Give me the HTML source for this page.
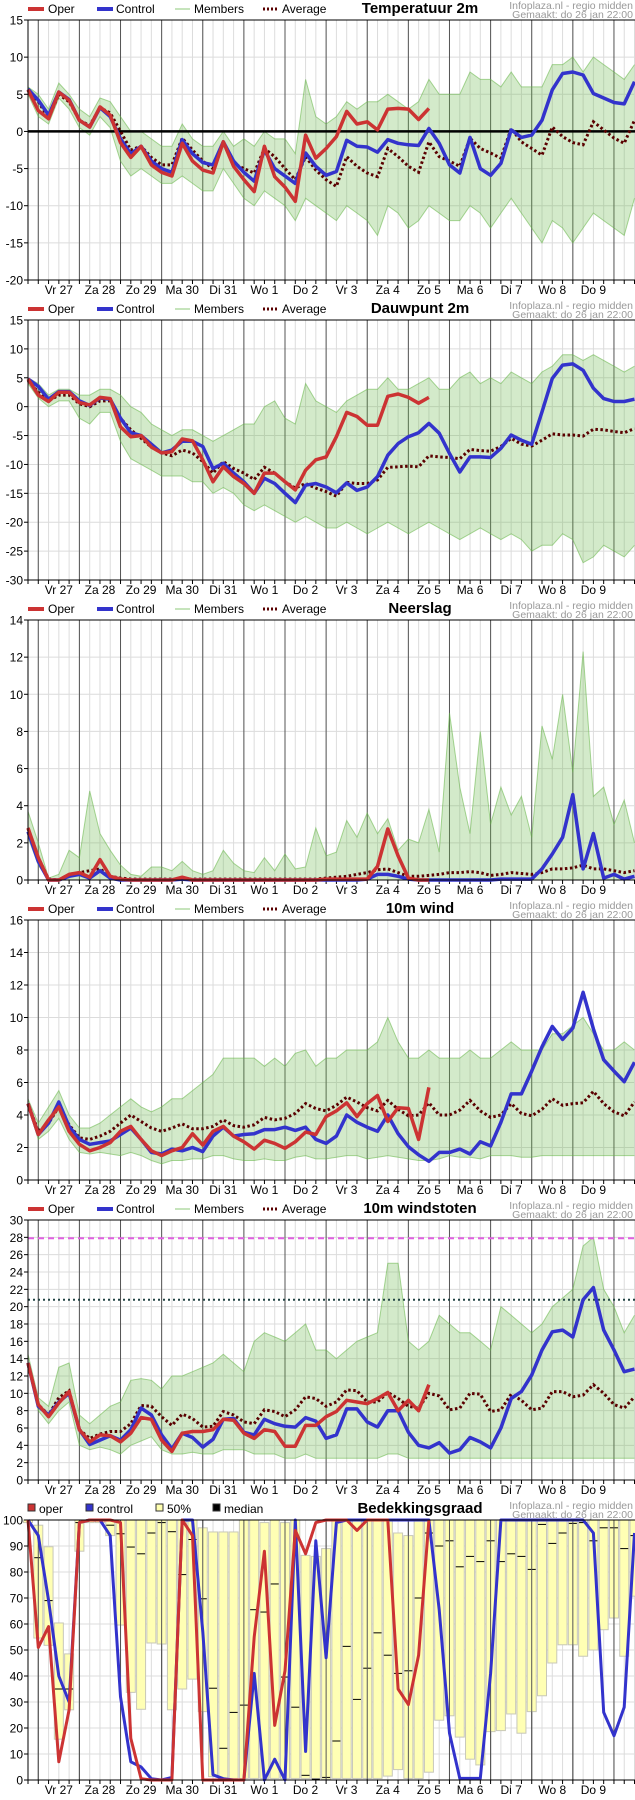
<!DOCTYPE html>
<html><head><meta charset="utf-8">
<style>
html,body{margin:0;padding:0;background:#fff;}
svg{display:block;font-family:"Liberation Sans",Arial,sans-serif;}
</style></head>
<body>
<svg id="chart" width="635" height="1800" viewBox="0 0 635 1800" xmlns="http://www.w3.org/2000/svg"></svg>
<script>
// ---------- shared axis data ----------
const dayLabels = ["Vr 27","Za 28","Zo 29","Ma 30","Di 31","Wo 1","Do 2","Vr 3","Za 4","Zo 5","Ma 6","Di 7","Wo 8","Do 9"];

// ---------- Temperatuur 2m ----------
const tempOper = [5.6,2.8,1.7,5.3,4.2,1.5,0.6,3.3,2.2,-1.5,-3.5,-2,-4.5,-5.5,-6,-1.6,-4,-5.2,-5.6,-1.4,-4.7,-6.5,-8.1,-2,-6.1,-7.5,-9.4,-0.5,-3.6,-2.3,-0.7,2.7,1,1.3,0.2,3,3.1,3,1.6,3.1];
const tempControl = [5.7,4.2,2.2,5.3,4.3,1.5,0.6,3.2,2,-1,-3,-2,-4,-5,-5.5,-1.1,-3,-4.2,-4.5,-1.4,-4,-5.5,-6.7,-2.5,-5,-6,-7,-2.9,-4.7,-5.9,-5.4,-1.2,-2,-2.1,-2.8,-1.1,-1.6,-1.8,-1.9,0.4,-1.6,-4.5,-5.6,-0.8,-5,-5.9,-4.3,0.2,-0.8,-0.5,1.5,5.6,7.8,8,7.6,5.1,4.5,3.9,3.7,6.7];
const tempAverage = [5.5,4,1.8,5,4,1.5,0.8,3.2,2.5,0,-2.5,-2,-3.5,-4.5,-4.5,-0.9,-2.5,-4,-5,-1.6,-4.3,-5,-5.6,-2.3,-3.4,-5,-6.5,-3.4,-5.2,-6.5,-7.4,-3.4,-4.7,-5.6,-6.1,-2.3,-3.4,-4.7,-5.5,-1.4,-3.4,-4,-4.7,-0.9,-2.3,-2.9,-3.6,0.4,-1.4,-2.3,-3.2,0.6,-0.7,-1.5,-1.8,1.3,0.2,-0.9,-1.6,1.5];
const tempHi = [6,5,3,6.5,5,3,2,4.5,4,2,0,0,-1,-2,-2,1,-1,-2,-2,0,-2,-1,-2,0,-1,-1,-3,7,2,1,2,4,3,4,4,5,4,3,4,7,5,5,5,8,7,7,6,8,6,6,6,9,9,10,8,10,9,8,7,9];
const tempLo = [5,2,1,4.5,3,0.5,-0.5,2,0.5,-4,-6,-5,-6,-7,-7,-6,-7,-8,-8,-5,-7,-9,-10,-8,-9,-10,-12,-9,-10,-11,-12,-10,-11,-12,-14,-10,-11,-13,-12,-10,-11,-12,-12,-10,-11,-13,-11,-9,-11,-13,-15,-12,-13,-15,-13,-11,-12,-13,-14,-9];

// ---------- Dauwpunt 2m ----------
const dewOper = [4.8,2,0.9,2.5,2.5,0.7,0.3,1.6,1.4,-3.5,-5.2,-5,-7,-8,-7.8,-5.6,-5.9,-9.2,-13,-10.4,-12.1,-13.3,-15,-11.5,-11.5,-13,-14.4,-11,-9.2,-8.7,-5.2,-1,-1.7,-3.2,-3.2,1.8,2.2,1.6,0.6,1.6];
const dewControl = [4.8,3.5,1.3,2.6,2.6,1,0.2,1.5,1.3,-2,-4.5,-5,-6.5,-8,-7.5,-6,-6,-6.9,-10.7,-9.8,-11.5,-13,-15,-12.4,-13.3,-15,-16.6,-13.6,-13.3,-13.9,-14.9,-13.2,-14.5,-13.9,-12.1,-8.4,-6.4,-5.2,-4.5,-2.9,-4.6,-8.1,-11.3,-8.7,-8.7,-8.8,-7.2,-4.9,-5.8,-6.5,-0.9,4.9,7.2,7.4,6.3,3.2,1.4,0.9,0.9,1.3];
const dewAverage = [4.5,2.5,1,2,2,0.5,0,1,1,-2,-4,-5.5,-7,-8,-8.5,-7.5,-8,-9.5,-11.5,-9.5,-10.7,-11.5,-12.6,-10.5,-11.5,-13,-14.1,-13.3,-14.1,-14.7,-15.5,-13.1,-13.3,-13.3,-12.7,-10.5,-10.4,-10.3,-10.4,-8.5,-8.7,-8.8,-9,-7.4,-7.6,-7.7,-6.9,-5.5,-6.5,-6.8,-5.8,-4.7,-4.9,-4.9,-5.1,-3.9,-4,-4.3,-4.5,-3.8];
const dewHi = [5,4,2,3,3,2,2,3,3,2,0,-1,-3,-4,-5,-4,-4,-5,-6,-5,-4,-3,-3,0,1,-2,-3,4,1,0,-1,1,2,3,3,5,3,3,4,5,3,3,5,6,4,5,4,6,5,4,6,7,9,9,8,9,8,7,6,7];
const dewLo = [4,1.5,0,1,1,-2,-3,-1,-1,-6,-9,-10,-11,-12,-12,-12,-13,-13,-15,-14,-15,-17,-18,-17,-18,-19,-20,-19,-20,-21,-21,-20,-21,-22,-21,-20,-21,-22,-21,-20,-21,-22,-23,-22,-21,-22,-23,-22,-23,-25,-24,-24,-22,-23,-27,-26,-24,-25,-26,-24];

// ---------- Neerslag ----------
const rainOper = [2.8,1.2,0,0,0.3,0.4,0.15,1.1,0.2,0.05,0,0,0,0,0,0.15,0,0,0,0,0,0,0,0,0,0,0,0,0,0.05,0.05,0.05,0.05,0.05,0.73,2.75,1.3,0.1,0,0];
const rainControl = [2.6,1,0,0,0.2,0.3,0.1,0.5,0.1,0,0,0,0,0,0,0.05,0,0,0,0,0,0,0,0,0,0,0,0,0,0,0,0,0,0.05,0.3,0.3,0.2,0.05,0,0,0,0,0,0,0,0,0.05,0.05,0.05,0.05,0.6,1.4,2.3,4.6,0.6,2.5,0.1,0.3,0.05,0.2];
const rainAverage = [2.8,1.2,0.05,0,0.3,0.4,0.5,0.6,0.2,0.1,0.05,0.05,0.05,0.05,0.05,0.05,0.05,0.05,0.05,0.05,0.05,0.05,0.05,0.05,0.05,0.05,0.05,0.05,0.05,0.1,0.15,0.2,0.3,0.4,0.55,0.6,0.4,0.2,0.2,0.25,0.3,0.4,0.4,0.45,0.4,0.25,0.3,0.4,0.35,0.3,0.4,0.6,0.6,0.65,0.8,0.6,0.6,0.5,0.4,0.5];
const rainHi = [3.7,2,0.1,0.3,1.6,1.2,4.8,2.5,1.6,0.8,0.3,0.2,0.7,0.7,0.5,1,0.5,0.3,0.5,1.6,0.9,0.5,0.4,1.2,0.5,1.4,0.6,0.7,2.8,1.3,1.5,3.2,2.3,3.6,2.5,3.3,1.6,2.2,2,3.8,1.5,9,5,2.5,8,3,5,3.5,4.5,2.3,8.3,6.5,10,5.8,12.3,4.5,5,3,4.3,2];
const rainLo = [2.3,0.8,0,0,0,0,0,0,0,0,0,0,0,0,0,0,0,0,0,0,0,0,0,0,0,0,0,0,0,0,0,0,0,0,0,0,0,0,0,0,0,0,0,0,0,0,0,0,0,0,0,0,0,0,0,0,0,0,0,0];

// ---------- 10m wind ----------
const windOper = [4.7,2.8,3.7,4.5,3,2.2,1.8,2,2.3,3,3.3,2.5,1.8,1.5,1.8,2,2.85,2.15,3,3.3,2.7,2.35,1.9,2.45,2.25,1.95,2.35,2.95,2.8,3.9,4.25,4.75,3.9,4.7,5.2,3.6,4.45,4.4,2.5,5.7];
const windControl = [4.7,2.8,3.5,4.8,3.3,2.5,2.2,2.3,2.4,2.8,3.2,2.5,1.7,1.6,1.9,1.8,2,1.75,2.7,3.25,2.7,2.8,2.85,3.1,3.1,3.25,3.05,3.25,2.5,2.25,2.7,4,3.55,3.25,3,4,2.85,2.05,1.55,1.15,1.7,1.7,1.9,1.6,2.35,2.1,3.55,5.3,5.3,6.7,8.2,9.45,8.65,9.35,11.55,9.3,7.4,6.7,6.05,7.25];
const windAverage = [4.7,3,3.5,4.5,3.4,2.6,2.5,2.7,3,3.5,4,3.6,3.2,3,3.2,3.45,3.15,3.15,3.3,3.7,3.35,3.25,3.4,3.85,3.7,3.8,4.1,4.7,4.4,4.25,4.6,5.1,4.8,4.45,4.25,4.9,4.35,3.95,4,4.75,4,4,4.3,4.9,4.25,3.85,4,4.7,4.1,3.95,4.35,5,4.6,4.7,4.75,5.45,4.7,4.2,3.95,4.8];
const windHi = [5,3.5,4.5,5.5,4,3.2,3.2,3.5,4,4.5,5,4.5,4.2,4.5,5,5,5.5,6,6.5,7.5,7.5,7.5,7.5,7,7.5,7,7.8,8,7,7.5,7.5,8,8,8,8.5,10,8.5,7.5,7.5,8,7.5,7.5,7.5,8,7.5,7.5,8,8.5,8,8,8,9,9,9.5,10,9,8,8,8.5,8];
const windLo = [4.5,2.5,3,3.8,2.5,1.7,1.6,1.7,1.6,1.5,1.7,1.5,1.2,1,1.2,1.2,1.3,1.3,1.5,1.5,1.3,1.2,1.2,1.3,1.2,1.2,1.4,1.5,1.3,1.3,1.4,1.5,1.5,1.3,1.4,1.5,1.4,1.3,1.2,1.2,1.3,1.5,1.4,1.4,1.3,1.5,1.5,1.5,1.4,1.4,1.5,1.5,1.5,1.5,1.5,1.5,1.5,1.5,1.5,1.5];

// ---------- 10m windstoten ----------
const gustOper = [13.5,8.7,7.3,8.9,10.2,5.8,4.4,5.2,5.1,4.4,5.4,7.2,7,4.6,3.3,5.4,5.6,5.6,5.8,7,6.9,5.4,4.8,5.8,5.6,3.9,3.9,6.3,6.3,7.3,7.9,9.2,9,8.8,9.4,10.1,8,9.2,8,11];
const gustControl = [13.5,8.5,7.5,9,10,5.8,4.1,4.6,5.1,4.6,5.8,8.3,7.5,5.2,3.6,5.4,4.9,3.8,4.7,7,7.1,5.5,5.2,7,6.5,6.2,6.1,7.2,6.8,4.8,5.2,8.2,8.2,6.7,6.1,8,8,5.5,4,3.7,4.3,3.1,3.5,4.9,4.4,3.7,6,9.4,10.2,12.1,15,17.1,17.3,16.5,20.8,22.2,17.3,15,12.5,12.8];
const gustAverage = [13.5,8.7,7.5,9.5,10.3,5.8,4.8,5.3,5.6,5.6,6.5,8.6,8.5,7.3,6.3,7.6,7.1,6.1,6.2,7.9,7.5,6.7,6.5,8.1,7.9,7.3,8.1,9.6,9.4,8.5,9,10.4,10.3,9,9,10.1,9.4,8.5,8.3,10,9.7,8.1,8.3,10,9.9,7.9,8.1,9.9,9.2,8.1,8.3,10.2,10.2,9.6,9.8,11,10,8.7,8.3,9.6];
const gustHi = [14.5,9.5,8.5,13,13.5,7.5,6.5,7.5,8.5,9,11.5,11.7,11.5,10.5,12,12,12.5,13,13.5,14.5,13.5,12.5,16,17,16.5,16,17,18,15,15,14,15,16,16.5,17,25,25,16,15,16,19,18,17,17,16,15,20,19,18,17,18,20,21,22,27,28,22,20,17,19];
const gustLo = [13,8,6.5,8,9,4,3.5,3.8,3.5,3,4,4.5,5,3.5,3,3,3.2,3,3,3.5,3.5,3.5,3,3,3,2.5,2.5,3,2.5,2.5,2.5,2.5,2.5,2.5,2.5,3,3,2.5,2.5,2.5,2.5,2.5,2.5,2.5,2.5,2.5,2.5,2.5,2.5,2.5,2.5,2.5,2.5,2.5,2.5,2.5,2.5,2.5,2.5,2.5];
const gustThresholds = [27.9, 20.8];

// ---------- Bedekkingsgraad ----------
const cloudOper = [100,51,59,7,27,99,100,100,100,99,16,0.5,0,0,0,100,94,0,0,0,0,0,55,88,21,42,96,87,99,100,100,100,96,100,100,100,35,29,48,100];
const cloudControl = [100,94,69,40,30,99,100,100,94,32,7,5,0.5,0,1,100,100,57,2,0.5,0,0,41,0,8,0,100,11,92,47,99,100,100,100,100,100,100,100,100,100,65.5,18,0.6,0.6,0.6,41,100,100,100,100,100,100,100,100,100,95,26,17,28,95];
const cloudP75 = [100,98,89.7,60.4,48.5,100,100,100,100,100,100,100,100,100,100,100,100,97,95.4,95.4,95.4,100,100,99,100,99,100,86.4,86,89,100,100,100,100,100,100,95,94,100,100,100,100,100,100,100,100,100,100,100,100,100,100,100,100,100,100,100,100,100,100];
const cloudP25 = [99,54.6,51.8,15.7,27,88,99,99,94,59.6,33.7,27.2,52.7,52.3,27,35,38.8,26.3,1.3,0.6,0.6,0.6,0.6,0.6,0.6,0.6,0.6,0.6,0.6,0.3,0.6,0.6,0.6,0.6,0.6,1.5,4,0.6,0.6,3,23,24.7,16.5,8,5.8,18.6,19,25.4,18,26.3,32.4,45,52,52,47.6,50,57.8,62.3,47.6,70.7];
const cloudMedian = [100,85.5,69,35,35,99,100,100,98,94.7,89.6,87,95,99,95.5,79,92.5,69.7,35.3,12.2,26,28.8,65.5,64.6,75.4,39.6,28,1.8,0.3,1,15,51.4,31,43,56.6,48,41,42,70,95,90,92,82,86,84,92,84,87,86,81,98.3,91,95,98.7,99,92,97,97,89,94];

// ---------- drawing ----------
const svg = document.getElementById('chart');
const NS = 'http://www.w3.org/2000/svg';
const X0 = 28, DX = 10.28, NSTEP = 60, PH = 260;
function xAt(i){ return X0 + i*DX; }
function mk(tag, attrs, parent){
  const e = document.createElementNS(NS, tag);
  for (const k in attrs) e.setAttribute(k, attrs[k]);
  (parent||svg).appendChild(e);
  return e;
}
function txt(s, x, y, attrs, parent){
  const t = mk('text', Object.assign({x:x, y:y}, attrs), parent);
  t.textContent = s;
  return t;
}
function pathFrom(arr, yf){
  let d = '';
  arr.forEach((v,i)=>{ d += (i?'L':'M') + xAt(i).toFixed(1) + ',' + yf(v).toFixed(1); });
  return d;
}

function header(g, top, title, cloud){
  const ly = top - 7;
  const leg = mk('g', {}, g);
  
  
  if (!cloud){
    const e1 = mk('line', {x1:28,y1:ly-4,x2:44,y2:ly-4,stroke:'#cc3333','stroke-width':4}, leg);
    
    
    txt('Oper', 48, ly, {'font-size':12, fill:'#000'}, leg);
    const e2 = mk('line', {x1:97,y1:ly-4,x2:113,y2:ly-4,stroke:'#3333cc','stroke-width':4}, leg);
    
    
    txt('Control', 116, ly, {'font-size':12, fill:'#000'}, leg);
    const e3 = mk('line', {x1:175,y1:ly-4,x2:190,y2:ly-4,stroke:'#8cc97a','stroke-width':1}, leg);
    
    
    txt('Members', 194, ly, {'font-size':12, fill:'#000'}, leg);
    const e4 = mk('line', {x1:263,y1:ly-4,x2:277,y2:ly-4,stroke:'#5a0000','stroke-width':3,'stroke-dasharray':'2,2'}, leg);
    
    
    txt('Average', 282, ly, {'font-size':12, fill:'#000'}, leg);
  } else {
    const items = [['#cc3333','oper',28],['#3333cc','control',86],['#ffffb0','50%',156],['#000','median',213]];
    items.forEach(it=>{
      const s = mk('rect', {x:it[2],y:ly-9,width:7,height:7,fill:it[0],stroke:'#333','stroke-width':1}, leg);
      
      
      txt(it[1], it[2]+11, ly, {'font-size':12, fill:'#000'}, leg);
    });
  }
  const t = txt(title, 420, ly, {'font-size':15,'font-weight':'bold','text-anchor':'middle',fill:'#000'}, g);
  
  
  const s1 = txt('Infoplaza.nl - regio midden', 633, top-11, {'font-size':10.5,'text-anchor':'end',fill:'#999'}, g);
  
  
  const s2 = txt('Gemaakt: do 26 jan 22:00', 633, top-2, {'font-size':10.5,'text-anchor':'end',fill:'#999'}, g);
  
  
}

function frame(g, top, min, max, step){
  const yf = v => top + (max - v) / (max - min) * PH;
  const bot = top + PH;
  // minor vertical grid
  for (let i=0;i<NSTEP;i++){
    const x = xAt(i);
    mk('line', {x1:x,y1:top,x2:x,y2:bot,stroke:'#dcdcdc','stroke-width':1}, g);
  }
  // horizontal grid & y ticks
  for (let v=min; v<=max+1e-9; v+=step){
    const y = yf(v);
    mk('line', {x1:X0,y1:y,x2:635,y2:y,stroke:'#dcdcdc','stroke-width':1}, g);
    mk('line', {x1:X0-4,y1:y,x2:X0,y2:y,stroke:'#000','stroke-width':1}, g);
    const t = txt(String(v), X0-5, y+4.5, {'font-size':12,'text-anchor':'end',fill:'#000'}, g);
    
    
  }
  // day lines + labels
  for (let i=1;i<NSTEP;i+=4){
    mk('line', {x1:xAt(i),y1:top,x2:xAt(i),y2:bot,stroke:'#555','stroke-width':1}, g);
  }
  for (let i=0;i<NSTEP;i++){
    mk('line', {x1:xAt(i),y1:bot,x2:xAt(i),y2:bot+4,stroke:'#000','stroke-width':1}, g);
  }
  dayLabels.forEach((d,k)=>{
    const t = txt(d, xAt(3+4*k), bot+14, {'font-size':12,'text-anchor':'middle',fill:'#000'}, g);
    
    
  });
  return yf;
}

function border(g, top){
  mk('line', {x1:X0,y1:top,x2:635,y2:top,stroke:'#000','stroke-width':1}, g);
  mk('line', {x1:X0,y1:top,x2:X0,y2:top+PH,stroke:'#000','stroke-width':1}, g);
  mk('line', {x1:X0,y1:top+PH,x2:635,y2:top+PH,stroke:'#000','stroke-width':1}, g);
}

function lineChart(name, top, title, min, max, step, hi, lo, avg, ctrl, oper, extra){
  const g = mk('g', {});
  
  
  header(g, top, title, false);
  const yf = frame(g, top, min, max, step);
  const plot = mk('g', {}, g);
  // members band
  let d = pathFrom(hi, yf);
  for (let i=lo.length-1;i>=0;i--) d += 'L' + xAt(i).toFixed(1) + ',' + yf(lo[i]).toFixed(1);
  d += 'Z';
  const band = mk('path', {d:d, fill:'rgba(110,185,80,0.30)', stroke:'none'}, plot);
  
  
  const hiL = mk('path', {d:pathFrom(hi, yf), fill:'none', stroke:'rgba(100,180,70,0.55)','stroke-width':1}, plot);
  
  
  const loL = mk('path', {d:pathFrom(lo, yf), fill:'none', stroke:'rgba(100,180,70,0.55)','stroke-width':1}, plot);
  
  
  if (extra) extra(plot, yf);
  const a = mk('path', {d:pathFrom(avg, yf), fill:'none', stroke:'#5a0000','stroke-width':3,'stroke-dasharray':'2.5,2.5'}, plot);
  
  
  const c = mk('path', {d:pathFrom(ctrl, yf), fill:'none', stroke:'#3333cc','stroke-width':3.5,'stroke-linejoin':'round'}, plot);
  
  
  const o = mk('path', {d:pathFrom(oper, yf), fill:'none', stroke:'#cc3333','stroke-width':3.5,'stroke-linejoin':'round'}, plot);
  
  
  border(g, top);
  return yf;
}

lineChart('temperature', 20, 'Temperatuur 2m', -20, 15, 5, tempHi, tempLo, tempAverage, tempControl, tempOper, (p, yf)=>{
  const z = mk('line', {x1:X0,y1:yf(0),x2:635,y2:yf(0),stroke:'#000','stroke-width':2.5}, p);
  
  
});
lineChart('dewpoint', 320, 'Dauwpunt 2m', -30, 15, 5, dewHi, dewLo, dewAverage, dewControl, dewOper);
lineChart('precipitation', 620, 'Neerslag', 0, 14, 2, rainHi, rainLo, rainAverage, rainControl, rainOper);
lineChart('wind', 920, '10m wind', 0, 16, 2, windHi, windLo, windAverage, windControl, windOper);
lineChart('gusts', 1220, '10m windstoten', 0, 30, 2, gustHi, gustLo, gustAverage, gustControl, gustOper, (p, yf)=>{
  const l1 = mk('line', {x1:X0,y1:yf(gustThresholds[0]),x2:635,y2:yf(gustThresholds[0]),stroke:'#e060e0','stroke-width':2,'stroke-dasharray':'6,4'}, p);
  
  
  const l2 = mk('line', {x1:X0,y1:yf(gustThresholds[1]),x2:635,y2:yf(gustThresholds[1]),stroke:'#224444','stroke-width':2,'stroke-dasharray':'2,3'}, p);
  
  
});

// cloud panel
(function(){
  const top = 1520;
  const g = mk('g', {});
  
  
  header(g, top, 'Bedekkingsgraad', true);
  const yf = frame(g, top, 0, 100, 10);
  cloudP75.forEach((hv,i)=>{
    const y1 = yf(hv), y2 = yf(cloudP25[i]);
    const b = mk('rect', {x:xAt(i)-4.5,y:y1,width:9,height:Math.max(1,y2-y1),fill:'#ffffb4',stroke:'#c8c8b8','stroke-width':1}, g);
    
    
  });
  cloudMedian.forEach((m,i)=>{
    const t = mk('line', {x1:xAt(i)-4,y1:yf(m),x2:xAt(i)+4,y2:yf(m),stroke:'#000','stroke-width':1}, g);
    
    
  });
  for (let i=1;i<NSTEP;i+=4){
    mk('line', {x1:xAt(i),y1:top,x2:xAt(i),y2:top+PH,stroke:'#555','stroke-width':1}, g);
  }
  const c = mk('path', {d:pathFrom(cloudControl, yf), fill:'none', stroke:'#3333cc','stroke-width':3,'stroke-linejoin':'round'}, g);
  
  
  const o = mk('path', {d:pathFrom(cloudOper, yf), fill:'none', stroke:'#cc3333','stroke-width':3,'stroke-linejoin':'round'}, g);
  
  
  border(g, top);
})();
</script>
</body></html>
